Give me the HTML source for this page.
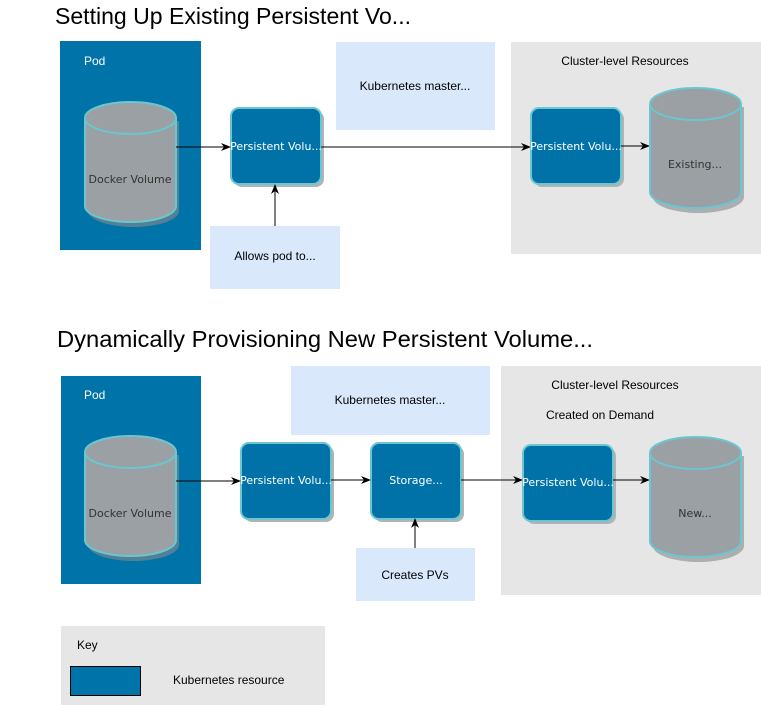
<!DOCTYPE html>
<html><head><meta charset="utf-8"><style>
html,body{margin:0;padding:0;background:#fff;}
svg{display:block;}
text{font-family:"Liberation Sans",sans-serif;}
.dv{font-family:"DejaVu Sans","Liberation Sans",sans-serif;font-size:11px;}
</style></head><body>
<svg width="761" height="706" viewBox="0 0 761 706" xmlns="http://www.w3.org/2000/svg">
<defs>
<marker id="a" markerWidth="10" markerHeight="10" refX="9" refY="5" orient="auto" markerUnits="userSpaceOnUse">
<path d="M0,1 L10,5 L0,9 L3,5 Z" fill="#000"/></marker>
<g id="pv"><rect x="3" y="3" width="90" height="76" rx="8" fill="#b3b3b3"/><rect x="0" y="0" width="90" height="76" rx="8" fill="#0072a8" stroke="#6cc6d1" stroke-width="2"/></g>
<g id="cyl">
<path d="M3,21 v90 a45.5,16 0 0 0 91,0 v-90" fill="#888" opacity="0.6"/>
<path d="M0,18 v88 a45.5,16 0 0 0 91,0 v-88 a45.5,16 0 0 0 -91,0 a45.5,16 0 0 0 91,0" fill="#9aa0a3" stroke="#6cc6d1" stroke-width="2"/>
</g>
</defs>

<text x="55" y="24" font-size="23" textLength="356" lengthAdjust="spacingAndGlyphs">Setting Up Existing Persistent Vo...</text>
<rect x="60" y="41" width="141" height="209" fill="#0073a8"/>
<text x="84" y="65" font-size="12" fill="#fff">Pod</text>
<use href="#cyl" x="85" y="100"/>
<text x="130" y="183" fill="#333" text-anchor="middle" class="dv">Docker Volume</text>

<rect x="336" y="42" width="159" height="88" fill="#dae8fc"/>
<text x="415" y="90" font-size="12" text-anchor="middle">Kubernetes master...</text>
<rect x="511" y="42" width="250" height="212" fill="#e6e6e6"/>
<text x="625" y="65" font-size="12" text-anchor="middle">Cluster-level Resources</text>

<use href="#pv" x="231" y="108"/>
<text x="276" y="150" fill="#fff" text-anchor="middle" class="dv">Persistent Volu...</text>
<rect x="210" y="226" width="130" height="63" fill="#dae8fc"/>
<text x="275" y="260" font-size="12" text-anchor="middle">Allows pod to...</text>
<line x1="176" y1="147" x2="230" y2="147" stroke="#000" marker-end="url(#a)"/>
<line x1="275" y1="226" x2="275" y2="185" stroke="#000" marker-end="url(#a)"/>
<line x1="321" y1="147" x2="530" y2="147" stroke="#000" marker-end="url(#a)"/>
<use href="#pv" x="531" y="108"/>
<text x="576" y="150" fill="#fff" text-anchor="middle" class="dv">Persistent Volu...</text>
<line x1="621" y1="146" x2="649" y2="146" stroke="#000" marker-end="url(#a)"/>
<use href="#cyl" x="650" y="86"/>
<text x="695" y="168" fill="#333" text-anchor="middle" class="dv">Existing...</text>

<text x="57" y="347" font-size="23" textLength="536" lengthAdjust="spacingAndGlyphs">Dynamically Provisioning New Persistent Volume...</text>
<rect x="61" y="376" width="140" height="208" fill="#0073a8"/>
<text x="84" y="399" font-size="12" fill="#fff">Pod</text>
<use href="#cyl" x="85" y="434"/>
<text x="130" y="517" fill="#333" text-anchor="middle" class="dv">Docker Volume</text>

<rect x="291" y="366" width="199" height="69" fill="#dae8fc"/>
<text x="390" y="404" font-size="12" text-anchor="middle">Kubernetes master...</text>
<rect x="501" y="366" width="260" height="229" fill="#e6e6e6"/>
<text x="615" y="389" font-size="12" text-anchor="middle">Cluster-level Resources</text>
<text x="600" y="419" font-size="12" text-anchor="middle">Created on Demand</text>

<use href="#pv" x="241" y="443"/>
<text x="286" y="484" fill="#fff" text-anchor="middle" class="dv">Persistent Volu...</text>
<use href="#pv" x="371" y="443"/>
<text x="416" y="484" fill="#fff" text-anchor="middle" class="dv">Storage...</text>
<rect x="356" y="548" width="119" height="53" fill="#dae8fc"/>
<text x="415" y="579" font-size="12" text-anchor="middle">Creates PVs</text>
<line x1="176" y1="481" x2="240" y2="481" stroke="#000" marker-end="url(#a)"/>
<line x1="331" y1="480" x2="370" y2="480" stroke="#000" marker-end="url(#a)"/>
<line x1="415" y1="548" x2="415" y2="519" stroke="#000" marker-end="url(#a)"/>
<line x1="461" y1="480" x2="522" y2="480" stroke="#000" marker-end="url(#a)"/>
<use href="#pv" x="523" y="445"/>
<text x="568" y="486" fill="#fff" text-anchor="middle" class="dv">Persistent Volu...</text>
<line x1="613" y1="480" x2="649" y2="480" stroke="#000" marker-end="url(#a)"/>
<use href="#cyl" x="650" y="435"/>
<text x="695" y="517" fill="#333" text-anchor="middle" class="dv">New...</text>

<rect x="61" y="626" width="264" height="79" fill="#e6e6e6"/>
<text x="77" y="649" font-size="12">Key</text>
<rect x="70.5" y="666.5" width="70" height="29" fill="#0073a8" stroke="#000"/>
<text x="173" y="684" font-size="12">Kubernetes resource</text>
</svg>
</body></html>
